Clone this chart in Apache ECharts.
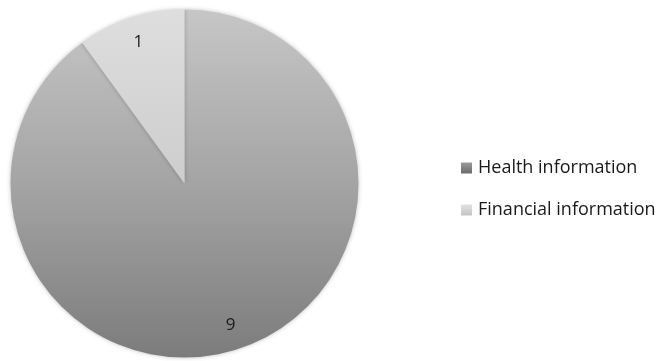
<!DOCTYPE html>
<html><head><meta charset="utf-8">
<script src="https://cdn.jsdelivr.net/npm/echarts@6/dist/echarts.min.js"></script>
<style>html,body{margin:0;padding:0;background:#fff}#c{width:662px;height:361px}</style>
</head><body><div id="c"></div>
<script>
const categories = ['Health information', 'Financial information'];
const values = [9, 1];

const fills = [
  {type:'linear', global:true, x:0, y:10, x2:0, y2:357, colorStops:[{offset:0,color:'#c6c6c6'},{offset:0.5,color:'#a4a4a4'},{offset:1,color:'#7c7c7c'}]},
  {type:'linear', global:true, x:0, y:10, x2:0, y2:183, colorStops:[{offset:0,color:'#dedede'},{offset:1,color:'#cdcdcd'}]}
];
const iconFills = [
  {type:'linear', x:0, y:0, x2:0, y2:1, colorStops:[{offset:0,color:'#9a9a9a'},{offset:1,color:'#6a6a6a'}]},
  {type:'linear', x:0, y:0, x2:0, y2:1, colorStops:[{offset:0,color:'#e2e2e2'},{offset:1,color:'#c4c4c4'}]}
];

const chart = echarts.init(document.getElementById('c'), null, {renderer:'canvas'});
chart.setOption({
  animation: false,
  legend: {
    orient: 'vertical',
    left: 456, top: 154,
    itemWidth: 11, itemHeight: 11, itemGap: 24,
    icon: 'rect',
    textStyle: {fontFamily: 'Open Sans', fontSize: 18, color: '#1a1a1a', padding:[0,0,0,1]},
    data: categories.map((c,i)=>({name:c, itemStyle:{color:iconFills[i]}}))
  },
  series: [
    {
      type: 'pie',
      center: [184.5, 183.5],
      radius: [0, 174],
      startAngle: 90,
      clockwise: true,
      label: {show:false},
      labelLine: {show:false},
      emphasis: {disabled:true},
      itemStyle: {borderWidth:0, shadowBlur:4, shadowColor:'rgba(0,0,0,0.25)'},
      data: categories.map((c,i)=>({name:c, value:values[i], itemStyle:{color:fills[i]}}))
    },
    {
      type: 'pie',
      center: [184.5, 183.5],
      radius: [118, 174],
      startAngle: 90,
      clockwise: true,
      silent: true,
      legendHoverLink: false,
      label: {show:true, position:'inside', formatter:'{c}', fontFamily:'Open Sans', fontSize:17, color:'#1a1a1a'},
      labelLine: {show:false},
      itemStyle: {color:'rgba(0,0,0,0)', borderWidth:0},
      data: categories.map((c,i)=>({name:c+' ', value:values[i]}))
    }
  ]
});
</script></body></html>
